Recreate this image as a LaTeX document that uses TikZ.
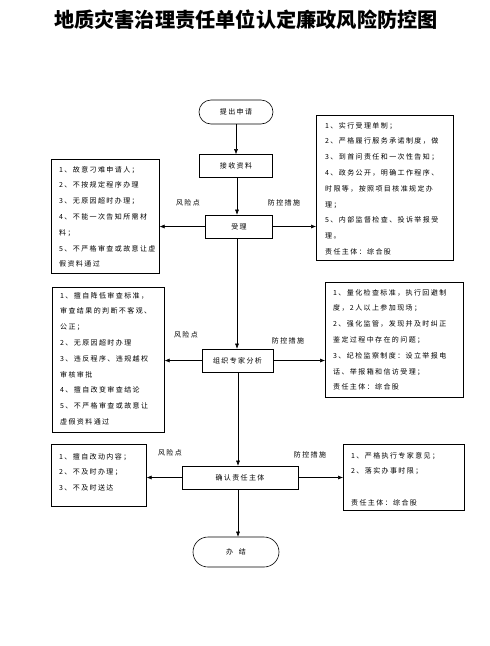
\documentclass[tikz,border=0pt]{standalone}
\usepackage{fontspec}
\usetikzlibrary{arrows.meta}
\newfontfamily\cjk[LetterSpace=20]{Noto Sans CJK SC}
\newfontfamily\cjktitle{Noto Sans CJK SC}

\tikzset{
  mainfont/.style={font=\cjk\fontsize{7}{15.8}\selectfont},
  stepbox/.style={draw, line width=0.6pt, minimum height=23pt, inner sep=0pt, mainfont},
  endbox/.style={stepbox, rounded corners=12pt, minimum height=24pt},
  notebox/.style={draw, line width=0.6pt, anchor=north west, inner sep=0pt},
  notetext/.style={anchor=north west, align=left, inner sep=0pt, mainfont},
  tag/.style={mainfont, inner sep=0pt},
  link/.style={-{Latex[length=5pt,width=4pt]}, line width=0.5pt},
}

\begin{document}
\begin{tikzpicture}[x=1pt,y=-1pt]
\useasboundingbox (0,0) rectangle (490,646);
\node[font=\cjktitle\bfseries\fontsize{20.2}{22}\selectfont] (title) at (246,20) {地质灾害治理责任单位认定廉政风险防控图};

% main flow
\node[endbox, minimum width=74pt] (apply) at (236,112) {提出申请};
\node[stepbox, minimum width=73pt] (recv) at (236,166) {接收资料};
\node[stepbox, minimum width=67pt] (accept) at (239,226.5) {受理};
\node[stepbox, minimum width=71pt] (org) at (237.5,360.5) {组织专家分析};
\node[stepbox, minimum width=116pt] (confirm) at (240,477.5) {确认责任主体};
\node[endbox, minimum width=86pt, minimum height=30pt, rounded corners=15pt] (finish) at (236,552) {办\ \ 结};

\draw[link] (apply) -- (recv);
\draw[link] (recv.south -| 237,0) -- (accept.north -| 237,0);
\draw[link] (accept.south -| 237,0) -- (org.north -| 237,0);
\draw[link] (org.south -| 238,0) -- (confirm.north -| 238,0);
\draw[link] (confirm.south -| 238,0) -- (finish.north -| 238,0);

% stage 1
\node[notebox, minimum width=108pt, minimum height=114pt] (risk1) at (51,159) {};
\node[notetext] (risk1txt) at ([shift={(8,7)}]risk1.north west) {1、故意刁难申请人；\\2、不按规定程序办理\\3、无原因超时办理；\\4、不能一次告知所需材\\料；\\5、不严格审查或故意让虚\\假资料通过};
\node[notebox, minimum width=137pt, minimum height=145pt] (ctrl1) at (316,115) {};
\node[notetext] (ctrl1txt) at ([shift={(9,7)}]ctrl1.north west) {1、实行受理单制；\\2、严格履行服务承诺制度，做\\3、到首问责任和一次性告知；\\4、政务公开，明确工作程序、\\时限等，按照项目核准规定办\\理；\\5、内部监督检查、投诉举报受\\理。\\责任主体：综合股};
\node[tag] (risk1tag) at (188,203) {风险点};
\node[tag] (ctrl1tag) at (284,203) {防控措施};
\draw[link] (accept.west) -- (accept.west -| risk1.east);
\draw[link] (accept.east) -- (accept.east -| ctrl1.west);

% stage 2
\node[notebox, minimum width=112pt, minimum height=145pt] (risk2) at (52,287) {};
\node[notetext] (risk2txt) at ([shift={(8,5)}]risk2.north west) {1、擅自降低审查标准，\\审查结果的判断不客观、\\公正；\\2、无原因超时办理\\3、违反程序、违规越权\\审核审批\\4、擅自改变审查结论\\5、不严格审查或故意让\\虚假资料通过};
\node[notebox, minimum width=138pt, minimum height=115pt] (ctrl2) at (325,282) {};
\node[notetext] (ctrl2txt) at ([shift={(8,7)}]ctrl2.north west) {1、量化检查标准，执行回避制\\度，2人以上参加现场；\\2、强化监管，发现并及时纠正\\鉴定过程中存在的问题；\\3、纪检监察制度：设立举报电\\话、举报箱和信访受理；\\责任主体：综合股};
\node[tag] (risk2tag) at (186,335) {风险点};
\node[tag] (ctrl2tag) at (288,341) {防控措施};
\draw[link] (org.west) -- (org.west -| risk2.east);
\draw[link] (org.east) -- (org.east -| ctrl2.west);

% stage 3
\node[notebox, minimum width=95pt, minimum height=62pt] (risk3) at (51,444) {};
\node[notetext] (risk3txt) at ([shift={(8,9)}]risk3.north west) {1、擅自改动内容；\\2、不及时办理；\\3、不及时送达};
\node[notebox, minimum width=121pt, minimum height=66pt] (ctrl3) at (343,444) {};
\node[notetext] (ctrl3txt) at ([shift={(8,8)}]ctrl3.north west) {1、严格执行专家意见；\\2、落实办事时限；\\[15.8pt]责任主体：综合股};
\node[tag] (risk3tag) at (170,453) {风险点};
\node[tag] (ctrl3tag) at (310,455) {防控措施};
\draw[link] (confirm.west) -- (confirm.west -| risk3.east);
\draw[link] (confirm.east) -- (confirm.east -| ctrl3.west);
\end{tikzpicture}
\end{document}
